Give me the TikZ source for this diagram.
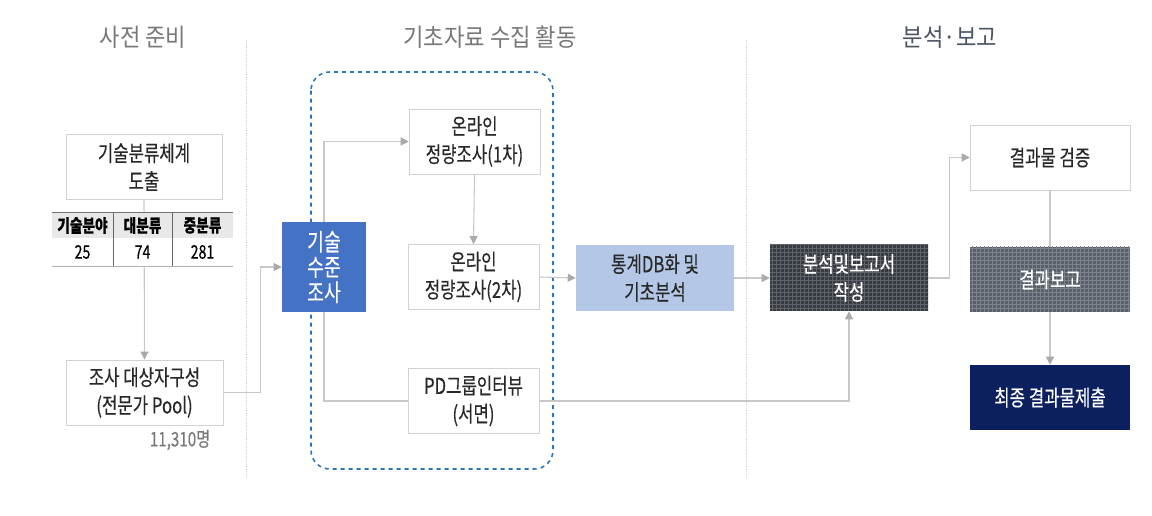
\documentclass[tikz,border=0pt]{standalone}
\usepackage{fontspec}
\setmainfont[FakeStretch=0.76,FakeBold=0.3]{Noto Sans CJK KR}
\newfontfamily\hdrfont[FakeStretch=0.9]{Noto Sans CJK KR}
\usepackage{tikz}
\usetikzlibrary{arrows.meta,positioning,patterns,backgrounds}
\definecolor{boxline}{RGB}{210,210,210}
\definecolor{linegray}{RGB}{200,200,200}
\definecolor{tipgray}{RGB}{170,170,170}
\definecolor{textdark}{RGB}{40,40,40}
\definecolor{hdrgray}{RGB}{120,120,120}
\definecolor{hdrdark}{RGB}{75,84,100}
\definecolor{surveyblue}{RGB}{68,114,196}
\definecolor{statblue}{RGB}{180,199,231}
\definecolor{groupblue}{RGB}{46,117,182}
\definecolor{darkbox}{RGB}{55,58,65}
\definecolor{darkgrid}{RGB}{95,99,107}
\definecolor{midbox}{RGB}{88,95,104}
\definecolor{midgrid}{RGB}{125,132,141}
\definecolor{finalnavy}{RGB}{12,32,96}

\begin{document}
\begin{tikzpicture}[
  x=0.75pt, y=-0.75pt,
  font=\fontsize{16.5}{21}\selectfont,
  wbox/.style={draw=boxline, fill=white, align=center, text=textdark, minimum width=98.25pt, minimum height=49pt, inner sep=1pt},
  cbox/.style={align=center, minimum width=118.5pt, minimum height=49.5pt, inner sep=1pt},
  rbox/.style={align=center, minimum width=120pt, minimum height=48.75pt, inner sep=1pt},
  hdr/.style={font=\hdrfont\fontsize{18.5}{20}\selectfont, text=hdrgray},
  thead/.style={fill=gray!18, font=\fontsize{13.5}{14}\selectfont\bfseries, text=black, minimum height=18.75pt, inner sep=0pt},
  tcell/.style={fill=white, font=\fontsize{14}{15}\selectfont, text=black, minimum height=21pt, inner sep=0pt},
  sep/.style={draw=gray!35, densely dotted},
  line/.style={draw=linegray, line width=0.8pt},
  arr/.style={line, -{Triangle[length=6pt,width=6pt,color=tipgray]}}
]
\useasboundingbox (0,0) rectangle (1152,516);
% column headers
\node[hdr] (h1) at (143,37) {사전 준비};
\node[hdr] (h2) at (490,37) {기초자료 수집 활동};
\node[hdr, text=hdrdark] (h3) at (950,37) {분석·보고};
\draw[sep] (246,40) -- (246,478);
\draw[sep] (746,40) -- (746,478);
% preparation
\node[wbox, minimum width=117pt] (classify) at (144,167) {기술분류체계\\도출};
\node[wbox, minimum width=117.75pt] (pool) at (144.5,392.5) {조사 대상자구성\\(전문가 Pool)};
\node[font=\fontsize{15}{16}\selectfont, text=hdrgray] (count) at (180,440) {11,310명};
% table
\node[thead, minimum width=45.75pt] (t11) at (82.5,225.5) {기술분야};
\node[thead, minimum width=44.25pt] (t12) at (142.5,225.5) {대분류};
\node[thead, minimum width=45.75pt] (t13) at (202.5,225.5) {중분류};
\node[tcell, minimum width=45.75pt] (t21) at (82.5,252) {25};
\node[tcell, minimum width=44.25pt] (t22) at (142.5,252) {74};
\node[tcell, minimum width=45.75pt] (t23) at (202.5,252) {281};
\draw[black!55, line width=0.9pt] (t11.north west) -- (t13.north east);
\draw[gray!60] (t21.south west) -- (t23.south east);
\draw[black!60] (t11.north east) -- (t21.south east);
\draw[black!60] (t12.north east) -- (t22.south east);
% data collection
\draw[groupblue, dashed, line width=1.2pt, rounded corners=14pt] (311,72) rectangle (553,469);
\node[align=center, fill=surveyblue, text=white, font=\fontsize{18}{19}\selectfont, minimum width=63pt, minimum height=67.5pt, inner sep=1pt] (survey) at (324,267) {기술\\수준\\조사};
\node[wbox] (online1) at (474.5,141.5) {온라인\\정량조사(1차)};
\node[wbox] (online2) at (473.5,277) {온라인\\정량조사(2차)};
\node[wbox] (pd) at (473.5,401) {PD그룹인터뷰\\(서면)};
\node[cbox, fill=statblue, text=textdark] (stat) at (655,278) {통계DB화 및\\기초분석};
% analysis and report
\node[cbox, fill=darkbox, text=white, postaction={pattern=grid, pattern color=darkgrid}] (analysis) at (849,278) {분석및보고서\\작성};
\node[rbox, draw=boxline, fill=white, text=textdark] (verify) at (1050,157.5) {결과물 검증};
\node[rbox, fill=midbox, text=white, postaction={pattern=grid, pattern color=midgrid}] (report) at (1050,279.5) {결과보고};
\node[rbox, fill=finalnavy, text=white] (final) at (1050,397.5) {최종 결과물제출};
% connectors
\begin{scope}[on background layer]
\draw[arr] (classify.south) -- (pool.north);
\end{scope}
\draw[arr] (pool.east) -- ++(37,0) |- (survey.west);
\draw[arr] (survey.north) |- (online1.west);
\draw[line] (survey.south) |- (pd.west);
\draw[arr] (online1.south) -- (online2.north);
\draw[arr] (online2.east) -- (stat.west);
\draw[arr] (stat.east) -- (analysis.west);
\draw[arr] (pd.east) -| (analysis.south);
\draw[arr] (analysis.east) -- ++(21,0) |- (verify.west);
\draw[line] (verify.south) -- (report.north);
\draw[arr] (report.south) -- (final.north);
\end{tikzpicture}
\end{document}
